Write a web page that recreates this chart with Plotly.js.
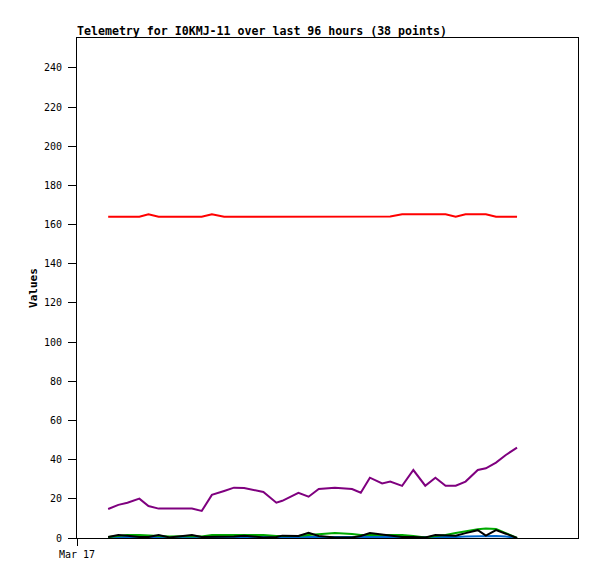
<!DOCTYPE html>
<html>
<head>
<meta charset="utf-8">
<script src="https://cdn.plot.ly/plotly-3.0.1.min.js"></script>
<style>html,body{margin:0;padding:0;background:#fff;}#chart{width:597px;height:579px;}</style>
</head>
<body>
<div id="chart"></div>
<script>
const times = ["2024-03-17 01:29","2024-03-17 01:58","2024-03-17 02:24","2024-03-17 02:58","2024-03-17 03:24","2024-03-17 03:53","2024-03-17 04:24","2024-03-17 05:28","2024-03-17 05:56","2024-03-17 06:25","2024-03-17 07:00","2024-03-17 07:28","2024-03-17 07:57","2024-03-17 08:20","2024-03-17 08:52","2024-03-17 09:29","2024-03-17 09:46","2024-03-17 10:32","2024-03-17 11:01","2024-03-17 11:30","2024-03-17 12:16","2024-03-17 13:05","2024-03-17 13:30","2024-03-17 13:56","2024-03-17 14:31","2024-03-17 14:54","2024-03-17 15:28","2024-03-17 16:00","2024-03-17 16:34","2024-03-17 17:03","2024-03-17 17:32","2024-03-17 18:01","2024-03-17 18:29","2024-03-17 19:04","2024-03-17 19:27","2024-03-17 19:56","2024-03-17 20:24","2024-03-17 20:56"];
const redValues = [164,164,164,164,165.3,164,164,164,164,165.3,164,164,164,164,164,164,164,164,164,164,164,164,164,164,164,164.2,165.3,165.3,165.3,165.3,165.3,164,165.3,165.3,165.3,164,164,164];
const purpleValues = [14.8,16.9,18,20.1,16.3,15,15,15,13.8,22,24,25.7,25.5,24.5,23.5,18,19,23.1,21.1,25,25.7,25,23.1,30.8,27.9,28.8,26.6,34.7,26.7,30.8,26.7,26.7,28.8,34.7,35.6,38.5,42.4,46.1];
const greenValues = [0.5,1,1.5,1.5,1.2,1,0.8,1,0.8,1.5,1.5,1.5,1.5,1.5,1.5,1,1,1,1.5,2,2.5,2,1.5,1.5,1.5,1.5,1.5,1,0.3,1,1.5,2.5,3.5,4.5,4.8,4.6,2.5,0];
const blackValues = [0.5,1.5,1.2,0.5,0.5,1.5,0.3,1.5,0.5,0.5,0.8,0.8,1.2,0.8,0.3,0.5,1.2,1,2.6,1,0.3,0.3,1,2.5,1.8,1,0.5,0.5,0.3,1.5,1.2,1.2,2.5,4,1.2,4,2.2,0];
const blueValues = [0,0.5,0.5,0.5,0.3,0.5,0.3,0.5,0.3,0.5,0.5,0.5,0.5,0.5,0.3,0.5,0.5,0.5,0.5,0.5,0.5,0.5,0.5,0.5,0.5,0.5,0.3,0.3,0.3,0.5,0.5,0.5,0.8,1,1,1,0.8,0];
const yTicks = [0,20,40,60,80,100,120,140,160,180,200,220,240];
const xTickVals = ["2024-03-17 00:00"];
const xTickText = ["Mar 17"];

const mono = "DejaVu Sans Mono, Liberation Mono, monospace";
function tr(y, color){
  return {x: times, y: y, type:'scatter', mode:'lines', line:{color:color, width:2}, hoverinfo:'skip', showlegend:false};
}
const data = [
  tr(blueValues,'#0066cc'),
  tr(greenValues,'#00aa00'),
  tr(blackValues,'#000000'),
  tr(purpleValues,'#7f007f'),
  tr(redValues,'#ff0000')
];
const layout = {
  width:597, height:579,
  margin:{l:77, r:19, t:38, b:41},
  paper_bgcolor:'#fff', plot_bgcolor:'#fff',
  font:{family:mono, size:10, color:'#000'},
  title:{text:'<b>Telemetry for I0KMJ-11 over last 96 hours (38 points)</b>', x:77/597, xref:'container', xanchor:'left', yref:'container', y:1-31/579, yanchor:'middle', font:{family:mono, size:11.6, color:'#000'}},
  xaxis:{type:'date', range:["2024-03-17 00:00","2024-03-17 23:50"], tickvals:xTickVals, ticktext:xTickText, ticks:'outside', ticklen:7, tickcolor:'#000', showgrid:false, zeroline:false, showline:true, linecolor:'#000', linewidth:1, mirror:true, tickfont:{family:mono, size:10, color:'#000'}},
  yaxis:{range:[0,255.3], tickvals:yTicks, ticks:'outside', ticklen:8, tickcolor:'#000', ticklabelstandoff:4, showgrid:false, zeroline:false, showline:true, linecolor:'#000', linewidth:1, mirror:true, tickfont:{family:mono, size:10, color:'#000'},
    title:{text:'<b>Values</b>', font:{family:mono, size:11, color:'#000'}, standoff:4}},
};
Plotly.newPlot('chart', data, layout, {staticPlot:true, displayModeBar:false});
</script>
</body>
</html>
